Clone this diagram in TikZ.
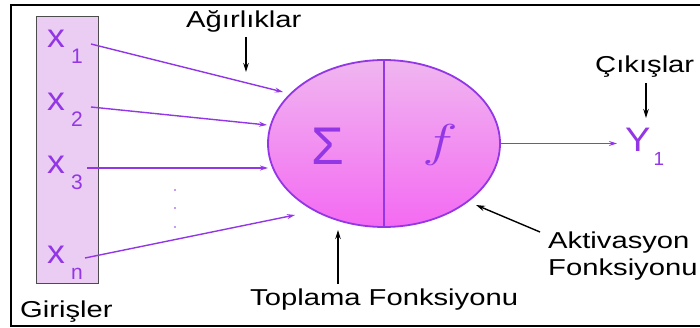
\RequirePackage{fix-cm}
\documentclass[tikz,border=0pt]{standalone}
\usepackage{fontspec}
\usepackage{graphicx}
\setmainfont{Liberation Sans}
\usetikzlibrary{arrows.meta,shapes.geometric}
\definecolor{purp}{HTML}{9236E6}
\definecolor{inbox}{HTML}{EBCDF3}
\definecolor{eltop}{HTML}{F0B6F0}
\definecolor{elbot}{HTML}{F46AF2}
\newcommand{\lbl}[1]{\scalebox{1.27}[1]{\fontsize{23}{26}\selectfont #1}}
\newcommand{\xin}[1]{\scalebox{1.08}[1]{\fontsize{33}{33}\selectfont x}\hspace{6pt}\raisebox{-16pt}{\fontsize{21}{21}\selectfont #1}}
\tikzset{
  lab/.style={anchor=base west, inner sep=0pt, text=black},
  xlab/.style={anchor=base west, inner sep=0pt, text=purp},
  parr/.style={draw=purp, line width=1.4pt, -{Stealth[length=8pt,width=5pt]}},
  barr/.style={draw=black, line width=1.4pt, -{Stealth[length=9pt,width=5.5pt]}},
}
\begin{document}
\begin{tikzpicture}[x=1pt,y=-1pt]
\useasboundingbox (0,0) rectangle (700,328);
% frame
\draw[line width=1.8pt] (11,5) -- (712,5) -- (712,326) -- (11,326) -- cycle;
% input box
\node[draw=black!70, line width=1.3pt, fill=inbox, minimum width=62pt, minimum height=267pt, inner sep=0pt, anchor=north west] (inputs) at (36,16) {};
% inputs
\node[xlab] (x1) at (47,48) {\xin{1}};
\node[xlab] (x2) at (47,111) {\xin{2}};
\node[xlab] (x3) at (47,174) {\xin{3}};
\node[xlab] (xn) at (47,263) {\xin{n}};
% dots
\foreach \yy/\nm in {190/d1,208/d2,227/d3}
  \node[circle, fill=purp, inner sep=0pt, minimum size=1.6pt] (\nm) at (175,\yy) {};
% neuron
\node[ellipse, draw=purp, line width=1.8pt, top color=eltop, bottom color=elbot, minimum width=232pt, minimum height=167pt, inner sep=0pt] (neuron) at (384,143.5) {};
\draw[purp, line width=1.8pt] (neuron.north) -- (neuron.south);
\node[anchor=base, inner sep=0pt, text=purp] (sigma) at (328,165) {\fontsize{53}{53}\selectfont Σ};
\node[anchor=base, inner sep=0pt, text=purp] (fn) at (440,157) {\scalebox{1.3}[1]{\fontsize{46}{46}\selectfont $f$}};
% coordinates for connector ends
\coordinate (s1) at (91,44);
\coordinate (s2) at (91,107);
\coordinate (s3) at (87,168);
\coordinate (sn) at (85,258);
\coordinate (e1) at (283,92);
\coordinate (e2) at (267,125);
\coordinate (e3) at (268,168);
\coordinate (en) at (295,215);
\draw[parr] (s1) -- (e1);
\draw[parr] (s2) -- (e2);
\draw[parr] (s3) -- (e3);
\draw[parr] (sn) -- (en);
% output
\node[xlab] (y1) at (625,152) {\scalebox{1.12}[1]{\fontsize{34}{34}\selectfont Y}\hspace{3pt}\raisebox{-14pt}{\fontsize{19}{19}\selectfont 1}};
\coordinate (outend) at (617,143.5);
\draw[parr] (neuron.east) -- (outend);
% labels
\node[lab] (agir) at (186,28) {\lbl{Ağırlıklar}};
\node[lab] (giris) at (20,317) {\lbl{Girişler}};
\node[lab] (toplama) at (250,305) {\lbl{Toplama Fonksiyonu}};
\node[lab] (aktiv) at (548,248) {\lbl{Aktivasyon}};
\node[lab] (fonk) at (548,275) {\lbl{Fonksiyonu}};
\node[lab] (cikis) at (595,73) {\lbl{Çıkışlar}};
% black arrows
\coordinate (a1s) at (246,37); \coordinate (a1e) at (246,72);
\coordinate (a2s) at (646,83); \coordinate (a2e) at (646,118);
\coordinate (a3s) at (338,284); \coordinate (a3e) at (338,230);
\coordinate (a4s) at (540,232); \coordinate (a4e) at (476,205);
\draw[barr] (a1s) -- (a1e);
\draw[barr] (a2s) -- (a2e);
\draw[barr] (a3s) -- (a3e);
\draw[barr] (a4s) -- (a4e);
\end{tikzpicture}
\end{document}
